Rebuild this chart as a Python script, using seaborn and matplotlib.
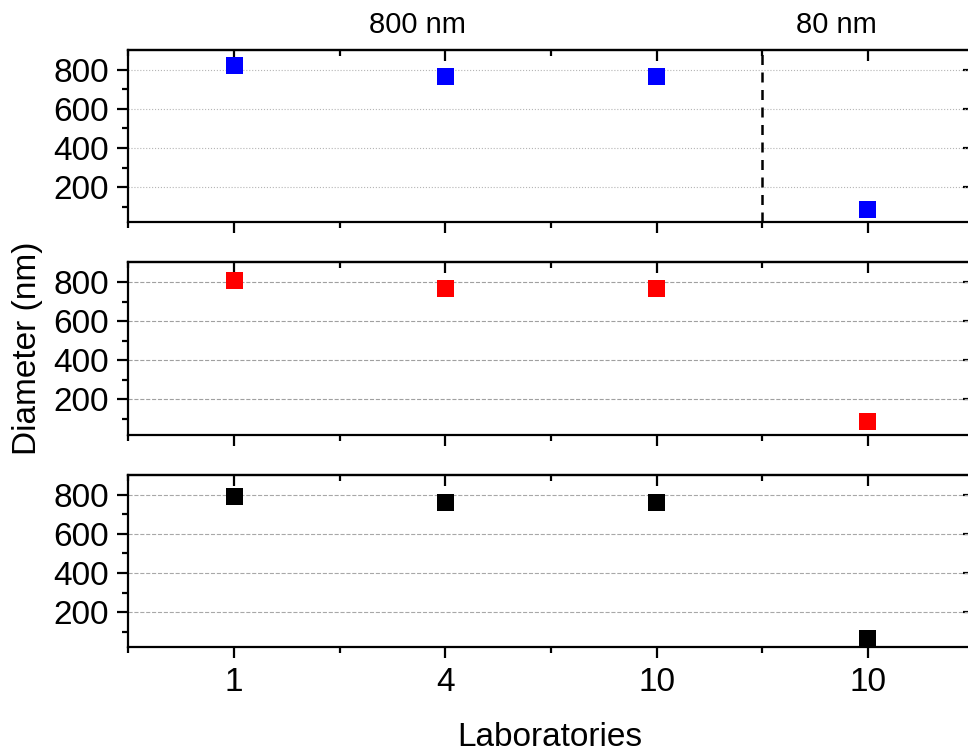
import matplotlib
matplotlib.use("Agg")
import matplotlib.pyplot as plt
import seaborn as sns
import pandas as pd
from matplotlib.ticker import FixedLocator

sns.set_theme(style="white")
plt.rcParams['font.family'] = ['Liberation Sans', 'DejaVu Sans']
plt.rcParams['text.color'] = 'black'
plt.rcParams['axes.labelcolor'] = 'black'
plt.rcParams['xtick.color'] = 'black'
plt.rcParams['ytick.color'] = 'black'

positions = [1, 2, 3, 4]
tick_labels = ["1", "4", "10", "10"]
blue_vals = [820, 763, 768, 84]
red_vals = [808, 767, 767, 87]
black_vals = [793, 761, 761, 63]
group_labels = ["800 nm", "80 nm"]

series = [(blue_vals, "#0000ff", ":", "#b5b5b5"),
          (red_vals, "#ff0000", "--", "#a0a0a0"),
          (black_vals, "#000000", "--", "#a8a8a8")]

W, H = 968, 753
fig = plt.figure(figsize=(W / 100, H / 100), dpi=100)

left = 128.4 / W
width = (973.6 - 128.4) / W
panels = [(50, 222.3), (262.3, 434.7), (475, 647.3)]

axes = []
for i, ((top, bot), (vals, col, gls, gcol)) in enumerate(zip(panels, series)):
    ax = fig.add_axes([left, 1 - bot / H, width, (bot - top) / H])
    df = pd.DataFrame({"pos": positions, "diam": vals})
    sns.scatterplot(data=df, x="pos", y="diam", ax=ax, marker="s", s=150,
                    color=col, edgecolor="none", linewidth=0, zorder=5, clip_on=False)
    ax.set_xlim(0.5, 4.5)
    ax.set_ylim(20, 901)
    ax.set_xlabel("")
    ax.set_ylabel("")
    ax.set_yticks([200, 400, 600, 800])
    ax.yaxis.set_minor_locator(FixedLocator([100, 300, 500, 700]))
    ax.set_xticks(positions)
    ax.xaxis.set_minor_locator(FixedLocator([0.5, 1.5, 2.5, 3.5, 4.5]))
    ax.grid(False)
    ax.yaxis.grid(True, which="major", linestyle=gls, color=gcol, linewidth=0.8)
    ax.set_axisbelow(True)
    for s in ["left", "top", "bottom", "right"]:
        ax.spines[s].set_visible(True)
        ax.spines[s].set_linewidth(1.6)
        ax.spines[s].set_color("black")
    ax.tick_params(axis="both", which="major", direction="out", length=8, width=1.6,
                   colors="black", labelcolor="black", labelsize=24, pad=6,
                   top=False, right=False, bottom=True, left=True)
    ax.tick_params(axis="both", which="minor", direction="out", length=4, width=1.6,
                   colors="black", top=False, right=False, bottom=True, left=True)
    if i < 2:
        ax.tick_params(axis="x", which="both", labelbottom=False)
    else:
        ax.set_xticklabels(tick_labels)
    sx = ax.secondary_xaxis("top")
    sx.set_xticks(positions)
    sx.xaxis.set_minor_locator(FixedLocator([0.5, 1.5, 2.5, 3.5, 4.5]))
    sx.tick_params(axis="x", which="major", direction="in", length=8, width=1.6,
                   labeltop=False, colors="black")
    sx.tick_params(axis="x", which="minor", direction="in", length=4, width=1.6,
                   colors="black")
    sx.spines["top"].set_linewidth(1.6)
    sy = ax.secondary_yaxis("right")
    sy.set_yticks([200, 400, 600, 800])
    sy.yaxis.set_minor_locator(FixedLocator([100, 300, 500, 700]))
    sy.tick_params(axis="y", which="major", direction="in", length=8, width=1.6,
                   labelright=False, colors="black")
    sy.tick_params(axis="y", which="minor", direction="in", length=4, width=1.6,
                   colors="black")
    axes.append(ax)

axes[0].axvline(3.5, color="black", linewidth=1.8, linestyle=(0, (4, 3)), zorder=3)
axes[0].text(1.87, 1.0 + 25 / 172.3, group_labels[0], transform=axes[0].get_xaxis_transform(),
             ha="center", va="center", fontsize=21, color="black")
axes[0].text(3.85, 1.0 + 25 / 172.3, group_labels[1], transform=axes[0].get_xaxis_transform(),
             ha="center", va="center", fontsize=21, color="black")

fig.text(28 / W, 1 - 348 / H, "Diameter (nm)", rotation=90, ha="center", va="center",
         fontsize=24, color="black")
fig.text(550 / W, 1 - 738 / H, "Laboratories", ha="center", va="center", fontsize=24,
         color="black")

fig.savefig("out.png", dpi=100)
